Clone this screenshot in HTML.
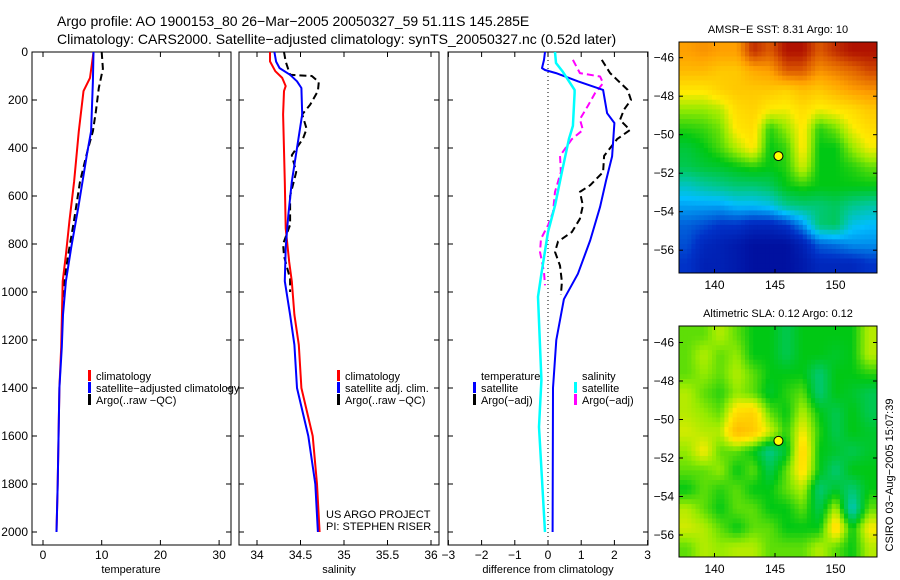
<!DOCTYPE html>
<html><head><meta charset="utf-8">
<style>
body{margin:0;background:#fff;}
svg{display:block;font-family:"Liberation Sans",sans-serif;}
text{fill:#000;}
</style></head>
<body>
<svg id="fig" width="900" height="580" viewBox="0 0 900 580">
<rect width="900" height="580" fill="#fff"/>
<text x="57" y="26" font-size="14">Argo profile: AO 1900153_80 26−Mar−2005 20050327_59 51.11S 145.285E</text>
<text x="57" y="44" font-size="14">Climatology: CARS2000. Satellite−adjusted climatology: synTS_20050327.nc (0.52d later)</text>
<g id="g"></g>
</svg>
<script>
// ---------- data ----------
const depthTicks=[0,200,400,600,800,1000,1200,1400,1600,1800,2000];
const tTicks=[0,10,20,30];
const sTicks=[34,34.5,35,35.5,36];
const sTickLabels=["34","34.5","35","35.5","36"];
const dTicks=[-3,-2,-1,0,1,2,3];
// temperature
const tClimDepth=[0,108,163,330,540,705,845,955,1230,1400,1800,2000];
const tClimVal=[8.6,8.0,6.9,6.1,5.3,4.5,3.9,3.35,3.1,2.8,2.5,2.3];
const tSatDepth=[0,122,330,425,650,815,955,1095,1230,1400,1800,2000];
const tSatVal=[8.6,8.5,8.2,7.5,6.0,4.8,3.9,3.4,3.2,2.8,2.5,2.3];
const tArgoDepth=[0,70,150,250,330,400,540,700,845,955,1050];
const tArgoVal=[10.0,10.2,9.5,9.0,8.5,7.7,6.3,5.3,4.3,3.6,3.4];
// salinity
const sClimDepth=[0,39,80,108,142,163,260,540,735,875,955,1095,1220,1400,1600,1800,2000];
const sClimVal=[34.15,34.15,34.21,34.29,34.33,34.31,34.30,34.32,34.33,34.37,34.40,34.43,34.48,34.51,34.64,34.69,34.72];
const sSatDepth=[0,40,67,95,122,150,260,400,540,680,815,955,1095,1220,1400,1600,1800,2000];
const sSatVal=[34.20,34.22,34.26,34.38,34.46,34.51,34.52,34.46,34.40,34.36,34.33,34.32,34.38,34.43,34.46,34.59,34.67,34.70];
const sArgoDepth=[0,40,95,100,125,163,220,260,320,360,430,500,600,720,800,850,945,1000];
const sArgoVal=[34.31,34.33,34.38,34.63,34.71,34.70,34.61,34.52,34.57,34.53,34.40,34.45,34.38,34.38,34.30,34.31,34.38,34.38];
// differences
const dTSatDepth=[0,33,67,75,88,122,158,255,296,435,535,645,785,924,1030,1200,1400,2000];
const dTSatVal=[-0.09,-0.12,-0.18,-0.09,0.24,0.9,1.66,1.78,2.0,1.93,1.75,1.57,1.27,0.9,0.48,0.25,0.15,0.14];
const dSSatDepth=[0,46,83,158,171,308,363,500,640,750,924,1020,1367,1562,2000];
const dSSatVal=[0.21,0.24,0.45,0.8,0.8,0.75,0.63,0.42,0.21,0.0,-0.2,-0.3,-0.2,-0.27,-0.09];
const dTArgoDepth=[33,88,116,158,200,240,283,325,363,433,500,555,583,640,695,750,790,833,890,958,1012];
const dTArgoVal=[1.62,1.87,2.08,2.4,2.5,2.29,2.17,2.47,2.08,1.69,1.66,1.27,0.96,1.05,0.96,0.72,0.3,0.21,0.36,0.42,0.39];
const dSArgoDepth=[33,88,102,130,171,225,280,325,363,433,500,583,667,722,778,833,917,972];
const dSArgoVal=[0.75,0.96,1.57,1.66,1.42,1.2,0.96,1.05,0.72,0.36,0.39,0.21,0.15,0.0,-0.21,-0.24,-0.12,-0.09];
// maps (normalised values, rows north->south, cols west->east)
const sstGrid=[
[0.8,0.82,0.8,0.8,0.95,0.9,0.98,0.98,0.9,0.95,0.98,0.98],
[0.75,0.75,0.72,0.72,0.78,0.8,0.9,0.9,0.82,0.85,0.88,0.92],
[0.66,0.66,0.7,0.72,0.72,0.72,0.7,0.74,0.72,0.76,0.8,0.82],
[0.58,0.58,0.6,0.68,0.7,0.65,0.64,0.68,0.64,0.66,0.68,0.72],
[0.52,0.53,0.56,0.66,0.68,0.52,0.58,0.66,0.52,0.56,0.64,0.68],
[0.47,0.5,0.54,0.6,0.66,0.5,0.53,0.66,0.5,0.5,0.58,0.64],
[0.45,0.47,0.48,0.5,0.52,0.5,0.52,0.62,0.5,0.5,0.52,0.55],
[0.35,0.38,0.4,0.42,0.42,0.44,0.5,0.52,0.5,0.5,0.5,0.5],
[0.27,0.27,0.27,0.3,0.3,0.32,0.4,0.42,0.42,0.44,0.4,0.38],
[0.2,0.18,0.15,0.15,0.12,0.12,0.15,0.25,0.42,0.44,0.32,0.3],
[0.18,0.12,0.1,0.08,0.05,0.05,0.05,0.1,0.2,0.22,0.25,0.25],
[0.15,0.1,0.1,0.08,0.05,0.05,0.05,0.08,0.12,0.12,0.12,0.15]];
const slaGrid=[
[.55,.55,.6,.55,.5,.5,.45,.5,.5,.5,.5,.6],
[.55,.6,.55,.58,.5,.5,.45,.5,.5,.48,.5,.6],
[.55,.58,.55,.6,.55,.5,.5,.5,.42,.5,.5,.52],
[.6,.55,.52,.58,.55,.48,.52,.55,.42,.5,.48,.45],
[.6,.58,.55,.68,.7,.55,.5,.6,.5,.45,.5,.45],
[.62,.6,.6,.75,.72,.62,.52,.65,.52,.45,.5,.48],
[.58,.65,.55,.55,.5,.4,.48,.7,.5,.48,.45,.48],
[.55,.55,.58,.5,.55,.45,.55,.68,.5,.42,.5,.5],
[.5,.55,.52,.55,.5,.5,.55,.6,.42,.48,.42,.5],
[.6,.55,.5,.55,.55,.5,.5,.55,.45,.6,.35,.55],
[.62,.6,.55,.5,.55,.55,.5,.5,.5,.7,.5,.65],
[.55,.6,.58,.6,.6,.55,.55,.55,.6,.55,.5,.6]];
const lonTicks=[140,145,150];
const latTicks=[-46,-48,-50,-52,-54,-56];
const argoLon=145.285, argoLat=-51.11;

// ---------- helpers ----------
const NS="http://www.w3.org/2000/svg";
const G=document.getElementById('g');
function mk(tag,attrs,parent){const e=document.createElementNS(NS,tag);for(const k in attrs)e.setAttribute(k,attrs[k]);(parent||G).appendChild(e);return e;}
function txt(x,y,s,size,anchor,parent){const e=mk('text',{x:x,y:y,'font-size':size,'text-anchor':anchor||'start'},parent);e.textContent=s;return e;}
const yD=d=>52+d*0.24;
const PB=545;
function panel(x0,x1,name){
  const r=mk('rect',{x:x0,y:52,width:x1-x0,height:PB-52,fill:'none',stroke:'#000','stroke-width':1});
  
  
  depthTicks.forEach(d=>{const y=yD(d);
    mk('line',{x1:x0,x2:x0+5,y1:y,y2:y,stroke:'#000'});
    mk('line',{x1:x1-5,x2:x1,y1:y,y2:y,stroke:'#000'});});
}
function xticks(xs,fx,labels,name){
  xs.forEach((v,i)=>{const x=fx(v);
    mk('line',{x1:x,x2:x,y1:52,y2:57,stroke:'#000'});
    mk('line',{x1:x,x2:x,y1:PB-5,y2:PB,stroke:'#000'});
    const t=txt(x,559,labels[i],12,'middle');
    
    });
}
function line(depths,vals,fx,color,w,dash,name){
  const p=depths.map((d,i)=>(i?'L':'M')+fx(vals[i]).toFixed(1)+','+yD(d).toFixed(1)).join('');
  const a={d:p,fill:'none',stroke:color,'stroke-width':w,'stroke-linejoin':'round'};
  if(dash)a['stroke-dasharray']=dash;
  const e=mk('path',a);
  
  
}
function legend(x,y,items){
  items.forEach((it,i)=>{const yy=y+i*12;
    if(it.c){const b=mk('rect',{x:x,y:yy-10,width:3,height:11,fill:it.c});
      
      }
    const t=txt(x+8,yy,it.t,11);
    
    });
}

// ---------- panel 1 temperature ----------
const fT=v=>43+v*5.87;
panel(32,231,'temperature-panel');
depthTicks.forEach(d=>{const t=txt(28,yD(d)+4,String(d),12,'end');
  
  });
xticks(tTicks,fT,tTicks.map(String),'temperature');
let lab=txt(131,573,'temperature',11,'middle');


line(tArgoDepth,tArgoVal,fT,'#000',2,'7,4','temperature-argo-line');
line(tClimDepth,tClimVal,fT,'#f00',2,null,'temperature-climatology-line');
line(tSatDepth,tSatVal,fT,'#00f',2,null,'temperature-satellite-line');
legend(88,380,[{c:'#f00',t:'climatology'},{c:'#00f',t:'satellite−adjusted climatology'},{c:'#000',t:'Argo(..raw −QC)'}]);

// ---------- panel 2 salinity ----------
const fS=v=>257+(v-34)*87;
panel(239,439,'salinity-panel');
xticks(sTicks,fS,sTickLabels,'salinity');
lab=txt(339,573,'salinity',11,'middle');


line(sArgoDepth,sArgoVal,fS,'#000',2,'7,4','salinity-argo-line');
line(sClimDepth,sClimVal,fS,'#f00',2,null,'salinity-climatology-line');
line(sSatDepth,sSatVal,fS,'#00f',2,null,'salinity-satellite-line');
legend(337,380,[{c:'#f00',t:'climatology'},{c:'#00f',t:'satellite adj. clim.'},{c:'#000',t:'Argo(..raw −QC)'}]);
let t1=txt(326,518,'US ARGO PROJECT',11);
let t2=txt(326,530,'PI: STEPHEN RISER',11);

// ---------- panel 3 difference ----------
const fD=v=>548+v*33.2;
panel(448,648,'difference-panel');
xticks(dTicks,fD,dTicks.map(v=>v<0?'−'+(-v):String(v)),'difference');
lab=txt(548,573,'difference from climatology',11,'middle');


const zl=mk('line',{x1:fD(0),x2:fD(0),y1:52,y2:PB,stroke:'#000','stroke-dasharray':'1,3'});


line(dTArgoDepth,dTArgoVal,fD,'#000',2,'7,4','temperature-argo-difference-line');
line(dSArgoDepth,dSArgoVal,fD,'#f0f',2,'7,4','salinity-argo-difference-line');
line(dTSatDepth,dTSatVal,fD,'#00f',2,null,'temperature-satellite-difference-line');
line(dSSatDepth,dSSatVal,fD,'#0ff',2.5,null,'salinity-satellite-difference-line');
legend(473,380,[{t:'temperature'},{c:'#00f',t:'satellite'},{c:'#000',t:'Argo(−adj)'}]);
legend(574,380,[{t:'salinity'},{c:'#0ff',t:'satellite'},{c:'#f0f',t:'Argo(−adj)'}]);

// ---------- maps ----------
const cmapStops=[[0,[0,0,140]],[0.15,[0,50,200]],[0.3,[0,190,255]],[0.4,[0,200,140]],[0.5,[0,200,20]],[0.58,[150,235,0]],[0.65,[255,235,0]],[0.8,[255,160,0]],[0.9,[220,90,0]],[1,[165,0,0]]];
function cmap(v){
  v=Math.max(0,Math.min(1,v));
  for(let i=1;i<cmapStops.length;i++){
    const a=cmapStops[i-1],b=cmapStops[i];
    if(v<=b[0]){const f=(v-a[0])/(b[0]-a[0]);
      return 'rgb('+a[1].map((c,k)=>Math.round(c+(b[1][k]-c)*f)).join(',')+')';}
  }
  return 'rgb(165,0,0)';
}
function sample(grid,r,c){
  const R=grid.length-1,C=grid[0].length-1;
  r=Math.max(0,Math.min(R,r));c=Math.max(0,Math.min(C,c));
  const r0=Math.floor(r),c0=Math.floor(c),r1=Math.min(R,r0+1),c1=Math.min(C,c0+1);
  const fr=r-r0,fc=c-c0;
  return grid[r0][c0]*(1-fr)*(1-fc)+grid[r0][c1]*(1-fr)*fc+grid[r1][c0]*fr*(1-fc)+grid[r1][c1]*fr*fc;
}
function map(top,bottom,grid,title,name,lat46){
  const L=679,R=877;
  const fx=lon=>714.5+(lon-140)*12.1;
  const fy=lat=>lat46+(-46-lat)*19.25;
  const g=mk('g',{});
  
  
  const rows=grid.length,cols=grid[0].length,UP=4;
  const nr=rows*UP,nc=cols*UP;
  const cw=(R-L)/nc,ch=(bottom-top)/nr;
  for(let i=0;i<nr;i++)for(let j=0;j<nc;j++){
    const v=sample(grid,(i+0.5)/UP-0.5,(j+0.5)/UP-0.5);
    const c=mk('rect',{x:(L+j*cw).toFixed(2),y:(top+i*ch).toFixed(2),width:(cw+0.5).toFixed(2),height:(ch+0.5).toFixed(2),fill:cmap(v)},g);
    
    
  }
  mk('rect',{x:L,y:top,width:R-L,height:bottom-top,fill:'none',stroke:'#000'},g);
  lonTicks.forEach(lon=>{const x=fx(lon);
    mk('line',{x1:x,x2:x,y1:top,y2:top+4,stroke:'#000'},g);
    mk('line',{x1:x,x2:x,y1:bottom-4,y2:bottom,stroke:'#000'},g);
    const t=txt(x,bottom+16,String(lon),12,'middle',g);
    
    });
  latTicks.forEach(lat=>{const y=fy(lat);
    mk('line',{x1:L,x2:L+4,y1:y,y2:y,stroke:'#000'},g);
    mk('line',{x1:R-4,x2:R,y1:y,y2:y,stroke:'#000'},g);
    const t=txt(L-5,y+4,'−'+(-lat),12,'end',g);
    
    });
  const tt=txt((L+R)/2,top-9,title,11,'middle',g);
  
  
  const m=mk('circle',{cx:fx(argoLon),cy:fy(argoLat),r:4.5,fill:'#ff0',stroke:'#000','stroke-width':1},g);
  
  
}
map(42,273,sstGrid,'AMSR−E SST: 8.31 Argo: 10','sst-map',57.7);
map(326,557,slaGrid,'Altimetric SLA: 0.12 Argo: 0.12','sla-map',342.5);
const cs=txt(0,0,'CSIRO 03−Aug−2005 15:07:39',11,'middle');
cs.setAttribute('transform','translate(893,475) rotate(-90)');


</script>
</body></html>
